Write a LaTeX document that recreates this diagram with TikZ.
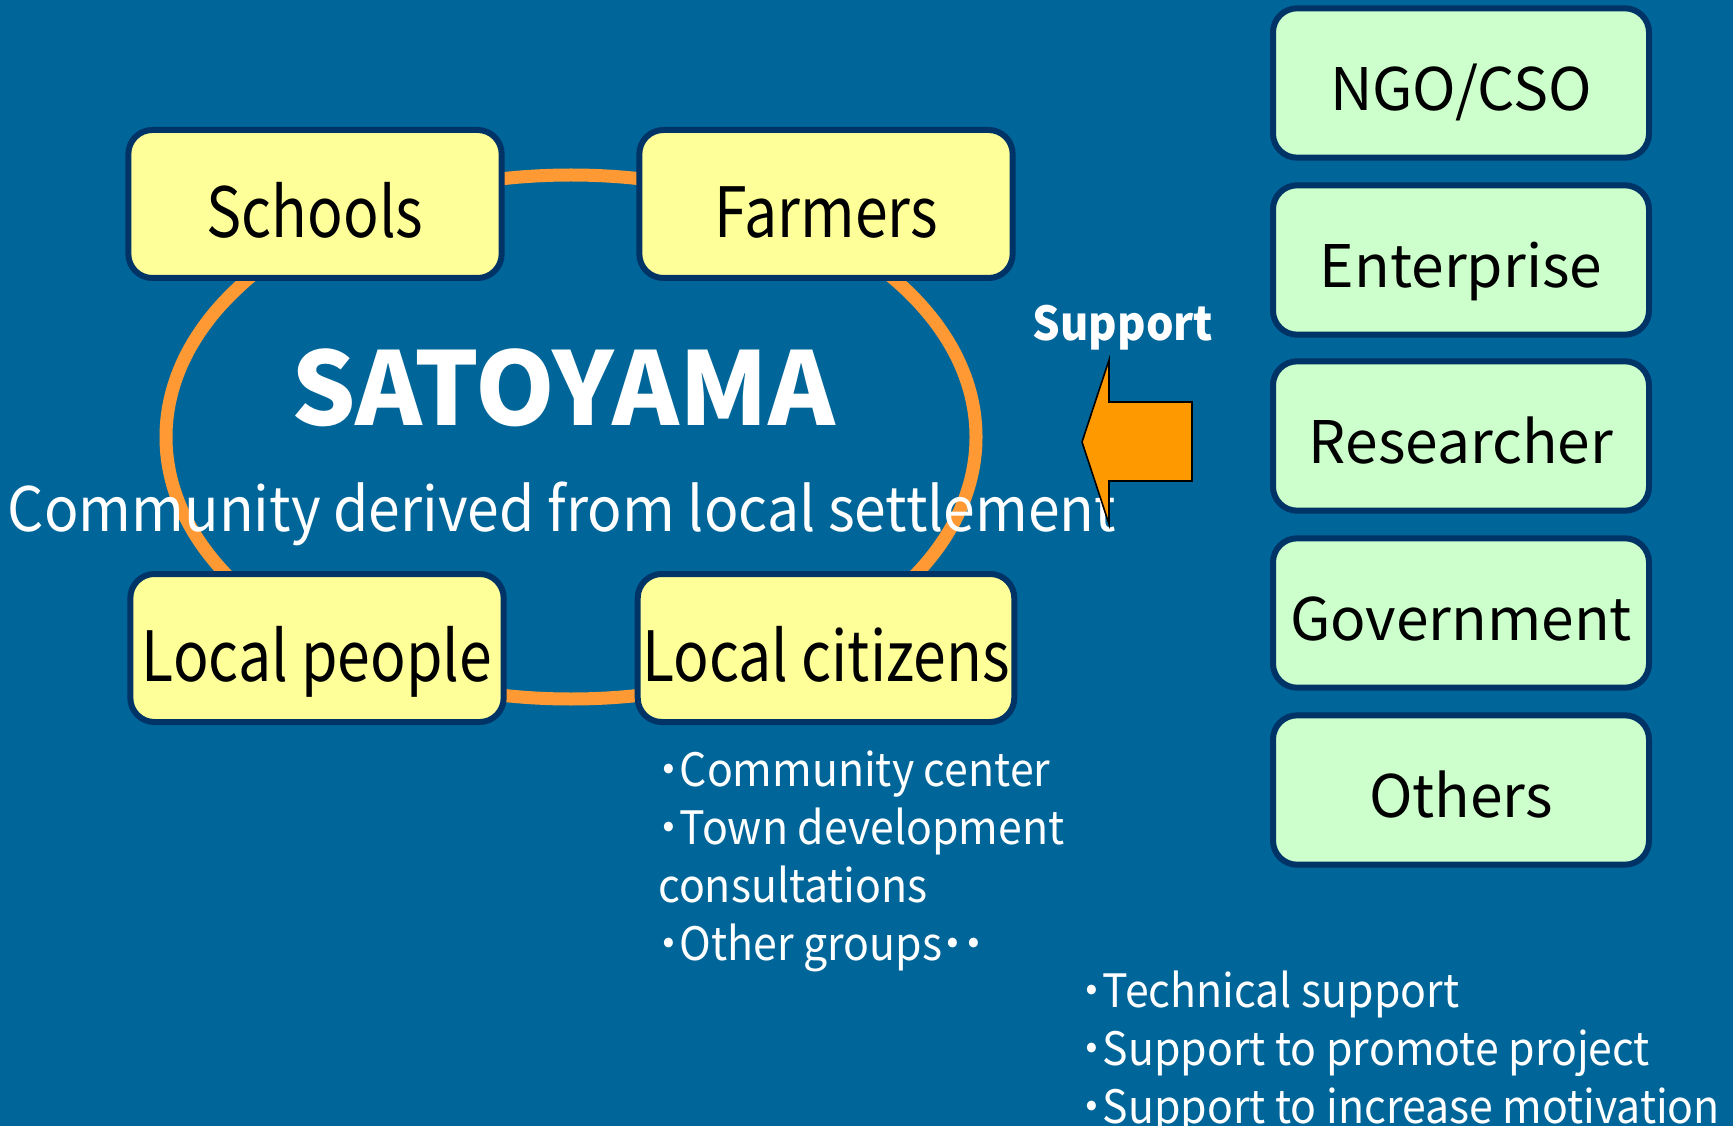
\documentclass[tikz,border=0pt]{standalone}
\usepackage{fontspec}
\setmainfont{Noto Sans CJK JP}[RawFeature=+palt]
\newfontfamily\narrow{Noto Sans CJK JP}[FakeStretch=0.85, RawFeature=+palt]
\newfontfamily\slim{Noto Sans CJK JP}[FakeStretch=0.93, RawFeature=+palt]
\usepackage{tikz}
\usepackage{xcolor}
\definecolor{slide}{HTML}{006699}
\definecolor{navy}{HTML}{003366}
\definecolor{ring}{HTML}{FF9933}
\definecolor{pale}{HTML}{FFFF99}
\definecolor{mint}{HTML}{CCFFCC}
\definecolor{arrowfill}{HTML}{FF9900}
\tikzstyle{actor} = [draw=navy, line width=4.5pt, fill=pale, rounded corners=18pt,
    minimum width=280pt, minimum height=111pt, text height=50pt, text depth=0pt,
    font=\narrow\fontsize{52}{60}\selectfont]
\tikzstyle{helper} = [draw=navy, line width=4.5pt, fill=mint, rounded corners=18pt,
    minimum width=282pt, minimum height=112pt, text height=41pt, text depth=0pt,
    font=\fontsize{44}{50}\selectfont]
\tikzstyle{note} = [text=white, anchor=north west, align=left, inner sep=0pt,
    font=\slim\fontsize{34.5}{43.5}\selectfont]

\begin{document}
\begin{tikzpicture}[x=0.75pt, y=-0.75pt]
        \useasboundingbox (0,0) rectangle (1733,1126);
        \fill[slide] (0,0) rectangle (1733,1126);

        % ring behind the four groups
        \draw[ring, line width=9.75pt] (571,437) ellipse [x radius=405, y radius=262];

        \node[actor] (schools) at (315,204) {Schools};
        \node[actor] (farmers) at (826,204) {Farmers};
        \node[actor] (people) at (317,648) {Local people};
        \node[actor] (citizens) at (826,648) {Local citizens};

        \node[text=white, font=\fontsize{76}{80}\selectfont\bfseries] (title) at (563,388) {SATOYAMA};
        \node[text=white, font=\slim\fontsize{46}{50}\selectfont] (subtitle) at (562,514) {Community derived from local settlement};

        % supporters
        \node[helper] (ngo) at (1461,83) {NGO/CSO};
        \node[helper] (enterprise) at (1461,260) {Enterprise};
        \node[helper] (researcher) at (1461,436) {Researcher};
        \node[helper] (government) at (1461,613) {Government};
        \node[helper] (others) at (1461,790) {Others};

        % support arrow
        \draw[fill=arrowfill, line width=1.2pt] (1082,442) -- (1109,360) -- (1109,402) -- (1192,402)
            -- (1192,481) -- (1109,481) -- (1109,524) -- cycle;
        \node[text=white, font=\slim\fontsize{35}{40}\selectfont\bfseries] (support) at (1123,328) {Support};

        \node[note] (groups) at (658,751) {・Community center\\・Town development\\consultations\\・Other groups・・};
        \node[note] (kinds) at (1081,971) {・Technical support\\・Support to promote project\\・Support to increase motivation};
\end{tikzpicture}
\end{document}
